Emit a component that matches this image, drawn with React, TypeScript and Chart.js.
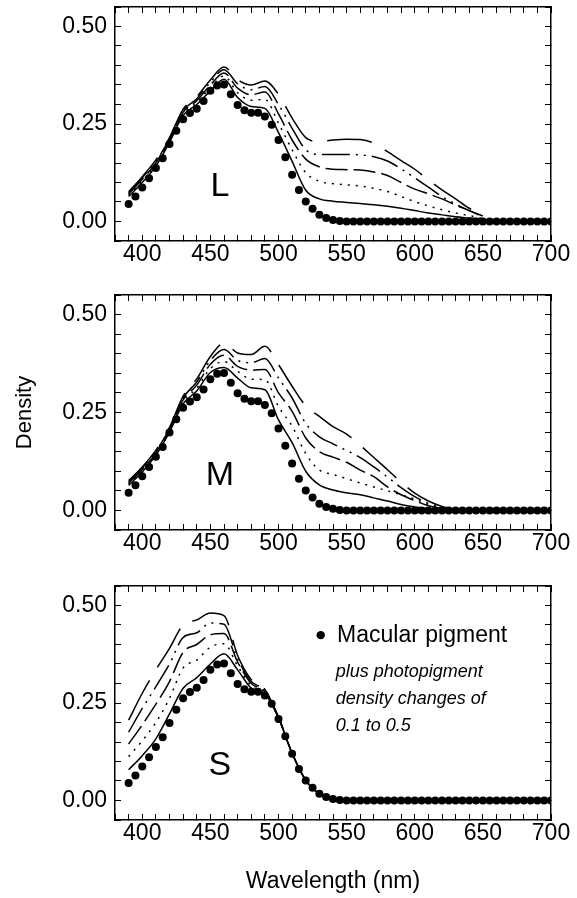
import React, { useEffect, useRef } from 'react';
import { Chart, registerables } from 'chart.js';

Chart.register(...registerables);
Chart.defaults.font.family = '"Liberation Sans", Arial, Helvetica, sans-serif';
Chart.defaults.color = '#000';

// Macular pigment density (dots), every 5 nm
const mpWavelengths = [
  390, 395, 400, 405, 410, 415, 420, 425, 430, 435, 440, 445, 450, 455, 460, 465,
  470, 475, 480, 485, 490, 495, 500, 505, 510, 515, 520, 525, 530, 535, 540, 545,
  550, 555, 560, 565, 570, 575, 580, 585, 590, 595, 600, 605, 610, 615, 620, 625,
  630, 635, 640, 645, 650, 655, 660, 665, 670, 675, 680, 685, 690, 695, 700,
];
const mpDensity = [
  0.045, 0.064, 0.087, 0.111, 0.137, 0.162, 0.199, 0.233, 0.262, 0.278, 0.289, 0.309, 0.335, 0.349, 0.351, 0.326,
  0.299, 0.285, 0.279, 0.279, 0.269, 0.248, 0.209, 0.165, 0.120, 0.081, 0.051, 0.033, 0.017, 0.009, 0.004, 0.001,
  0, 0, 0, 0, 0, 0, 0, 0, 0, 0, 0, 0, 0, 0, 0, 0,
  0, 0, 0, 0, 0, 0, 0, 0, 0, 0, 0, 0, 0, 0, 0,
];

// L panel: macular pigment plus photopigment density change 0.1 ... 0.5
const lWavelengths = [390, 400, 410, 420, 430, 440, 450, 460, 470, 480, 490, 500, 510, 520, 530, 540, 550, 560, 570, 580, 590, 600, 610, 620, 630, 640, 650];
const lPlus01 = [0.064, 0.100, 0.142, 0.203, 0.272, 0.300, 0.335, 0.365, 0.318, 0.295, 0.290, 0.228, 0.154, 0.080, 0.058, 0.052, 0.049, 0.046, 0.043, 0.039, 0.034, 0.028, 0.022, 0.017, 0.012, 0.009, 0.006];
const lPlus02 = [0.067, 0.104, 0.146, 0.206, 0.276, 0.305, 0.343, 0.373, 0.330, 0.311, 0.313, 0.252, 0.184, 0.125, 0.103, 0.097, 0.094, 0.091, 0.085, 0.077, 0.064, 0.051, 0.040, 0.030, 0.022, 0.015, 0.008];
const lPlus03 = [0.070, 0.108, 0.150, 0.209, 0.280, 0.310, 0.350, 0.381, 0.342, 0.325, 0.332, 0.276, 0.209, 0.160, 0.140, 0.134, 0.133, 0.132, 0.127, 0.118, 0.100, 0.083, 0.071, 0.058, 0.042, 0.028, 0.012];
const lPlus04 = [0.073, 0.112, 0.154, 0.212, 0.284, 0.315, 0.357, 0.389, 0.353, 0.338, 0.346, 0.300, 0.239, 0.184, 0.172, 0.172, 0.172, 0.171, 0.166, 0.155, 0.135, 0.112, 0.088, 0.064, 0.045, 0.028, 0.014];
const lPlus05 = [0.076, 0.115, 0.158, 0.215, 0.288, 0.320, 0.363, 0.396, 0.364, 0.350, 0.360, 0.326, 0.265, 0.215, 0.205, 0.209, 0.211, 0.210, 0.201, 0.179, 0.156, 0.134, 0.107, 0.081, 0.058, 0.034, 0.016];

// M panel
const mWavelengths = [390, 400, 410, 420, 430, 440, 450, 460, 470, 480, 490, 500, 510, 520, 530, 540, 550, 560, 570, 580, 590, 600, 610, 620, 630];
const mPlus01 = [0.064, 0.098, 0.141, 0.200, 0.272, 0.305, 0.352, 0.365, 0.338, 0.313, 0.308, 0.231, 0.173, 0.100, 0.065, 0.052, 0.045, 0.040, 0.032, 0.024, 0.015, 0.009, 0.004, 0.002, 0.001];
const mPlus02 = [0.067, 0.101, 0.144, 0.203, 0.277, 0.312, 0.362, 0.380, 0.355, 0.335, 0.334, 0.265, 0.215, 0.145, 0.103, 0.092, 0.081, 0.070, 0.060, 0.050, 0.040, 0.029, 0.015, 0.006, 0.002];
const mPlus03 = [0.070, 0.104, 0.147, 0.206, 0.282, 0.320, 0.373, 0.396, 0.368, 0.358, 0.360, 0.300, 0.253, 0.185, 0.150, 0.136, 0.123, 0.103, 0.086, 0.060, 0.040, 0.025, 0.012, 0.005, 0.002];
const mPlus04 = [0.073, 0.108, 0.151, 0.209, 0.287, 0.328, 0.383, 0.411, 0.383, 0.377, 0.388, 0.338, 0.287, 0.222, 0.188, 0.170, 0.153, 0.135, 0.111, 0.085, 0.058, 0.035, 0.018, 0.007, 0.002];
const mPlus05 = [0.076, 0.111, 0.154, 0.212, 0.292, 0.336, 0.393, 0.427, 0.402, 0.398, 0.419, 0.372, 0.317, 0.267, 0.240, 0.214, 0.195, 0.166, 0.135, 0.104, 0.072, 0.044, 0.024, 0.010, 0.003];

// S panel
const sWavelengths = [390, 400, 410, 420, 430, 440, 450, 460, 470, 480, 490, 500, 510, 520, 530, 540, 550, 560];
const sPlus01 = [0.079, 0.115, 0.158, 0.222, 0.288, 0.315, 0.350, 0.376, 0.335, 0.288, 0.273, 0.211, 0.121, 0.052, 0.017, 0.004, 0, 0];
const sPlus02 = [0.113, 0.153, 0.200, 0.262, 0.340, 0.360, 0.393, 0.402, 0.345, 0.294, 0.276, 0.212, 0.121, 0.052, 0.017, 0.004, 0, 0];
const sPlus03 = [0.145, 0.194, 0.247, 0.305, 0.380, 0.400, 0.425, 0.428, 0.355, 0.300, 0.279, 0.213, 0.121, 0.052, 0.017, 0.004, 0, 0];
const sPlus04 = [0.175, 0.236, 0.292, 0.350, 0.418, 0.430, 0.455, 0.452, 0.363, 0.305, 0.282, 0.213, 0.121, 0.052, 0.017, 0.004, 0, 0];
const sPlus05 = [0.206, 0.275, 0.335, 0.390, 0.450, 0.463, 0.481, 0.474, 0.372, 0.310, 0.285, 0.214, 0.121, 0.052, 0.017, 0.004, 0, 0];

const panelLetters = ['L', 'M', 'S'];
const letterPosition = [457, 0.09];
const legendLabel = 'Macular pigment';
const legendNote = ['plus photopigment', 'density changes of', '0.1 to 0.5'];
const xAxisTitle = 'Wavelength (nm)';
const yAxisTitle = 'Density';

const lineDashes = [[], [2, 6], [22, 6], [28, 6, 2, 6, 2, 6], [45, 15]];

const panels = [
  { letter: panelLetters[0], wl: lWavelengths, lines: [lPlus01, lPlus02, lPlus03, lPlus04, lPlus05], top: 0, height: 290, padTop: 7, xHeight: 49, yTitle: false, xTitle: false, legend: false },
  { letter: panelLetters[1], wl: mWavelengths, lines: [mPlus01, mPlus02, mPlus03, mPlus04, mPlus05], top: 290, height: 290, padTop: 5, xHeight: 50, yTitle: true, xTitle: false, legend: false },
  { letter: panelLetters[2], wl: sWavelengths, lines: [sPlus01, sPlus02, sPlus03, sPlus04, sPlus05], top: 580, height: 318, padTop: 6, xHeight: 78, yTitle: false, xTitle: true, legend: true },
];

const FONT = '"Liberation Sans", Arial, Helvetica, sans-serif';

function xTick(v: number) {
  return v % 50 === 0 && v >= 400 ? String(v) : '';
}
function yTick(v: number) {
  const r = Math.round(v * 100);
  return r >= 0 && r % 25 === 0 ? (r / 100).toFixed(2) : '';
}

function buildChart(canvas: HTMLCanvasElement, panel: any) {
  const datasets: any[] = panel.lines.map((vals: number[], k: number) => ({
    data: panel.wl.map((x: number, i: number) => ({ x, y: vals[i] })),
    showLine: true,
    borderColor: '#000',
    borderWidth: 1.5,
    borderDash: lineDashes[k],
    borderCapStyle: 'butt',
    pointRadius: 0,
    pointHoverRadius: 0,
    fill: false,
    cubicInterpolationMode: 'monotone',
  }));
  datasets.push({
    data: mpWavelengths.map((x, i) => ({ x, y: mpDensity[i] })),
    showLine: false,
    pointRadius: 4,
    pointHoverRadius: 4,
    pointBackgroundColor: '#000',
    pointBorderColor: '#000',
    pointBorderWidth: 0,
  });

  const tickGrid = { drawOnChartArea: false, drawTicks: true, tickLength: -6, color: '#000', lineWidth: 1 };
  const border = { display: true, color: '#000', width: 1.5 };

  const annotate = {
    id: 'annotate',
    afterDatasetsDraw(chart: any) {
      const { ctx } = chart;
      const x = chart.scales.x;
      const y = chart.scales.y;
      ctx.save();
      ctx.fillStyle = '#000';
      ctx.font = `34px ${FONT}`;
      ctx.textAlign = 'center';
      ctx.textBaseline = 'middle';
      ctx.fillText(panel.letter, x.getPixelForValue(letterPosition[0]), y.getPixelForValue(letterPosition[1]));
      if (panel.legend) {
        const dx = x.getPixelForValue(531);
        const dy = y.getPixelForValue(0.424);
        ctx.beginPath();
        ctx.arc(dx, dy, 4.2, 0, Math.PI * 2);
        ctx.fill();
        ctx.textAlign = 'left';
        ctx.font = `23px ${FONT}`;
        ctx.fillText(legendLabel, x.getPixelForValue(543), dy + 1);
        ctx.font = `italic 18px ${FONT}`;
        const ys = [0.329, 0.26, 0.191];
        legendNote.forEach((t, i) => ctx.fillText(t, x.getPixelForValue(542), y.getPixelForValue(ys[i])));
      }
      ctx.restore();
    },
  };

  return new Chart(canvas, {
    type: 'scatter',
    data: { datasets },
    plugins: [annotate],
    options: {
      animation: false,
      responsive: false,
      maintainAspectRatio: false,
      events: [],
      layout: { padding: { top: panel.padTop, right: 26, bottom: 0, left: 0 } },
      plugins: { legend: { display: false }, tooltip: { enabled: false } },
      scales: {
        x: {
          type: 'linear',
          position: 'bottom',
          min: 380,
          max: 700,
          ticks: { stepSize: 10, autoSkip: false, maxRotation: 0, padding: 6, font: { size: 23 }, color: '#000', callback: (v: any) => xTick(Number(v)) },
          grid: tickGrid,
          border,
          title: { display: panel.xTitle, text: xAxisTitle, font: { size: 23 }, color: '#000', padding: { top: 0, bottom: 3 } },
          afterFit: (s: any) => { s.height = panel.xHeight; s.paddingLeft = 0; s.paddingRight = 0; },
        },
        x2: {
          type: 'linear',
          position: 'top',
          min: 380,
          max: 700,
          ticks: { stepSize: 10, autoSkip: false, display: false },
          grid: tickGrid,
          border,
          afterFit: (s: any) => { s.height = 0; s.paddingLeft = 0; s.paddingRight = 0; },
        },
        y: {
          type: 'linear',
          position: 'left',
          min: -0.05,
          max: 0.55,
          ticks: { stepSize: 0.05, autoSkip: false, padding: 14, font: { size: 23 }, color: '#000', callback: (v: any) => yTick(Number(v)) },
          grid: tickGrid,
          border,
          title: { display: panel.yTitle, text: yAxisTitle, font: { size: 22 }, color: '#000', padding: { top: 12, bottom: 0 } },
          afterFit: (s: any) => { s.width = 115; s.paddingTop = 0; s.paddingBottom = 0; },
        },
        y2: {
          type: 'linear',
          position: 'right',
          min: -0.05,
          max: 0.55,
          ticks: { stepSize: 0.05, autoSkip: false, display: false },
          grid: tickGrid,
          border,
          afterFit: (s: any) => { s.width = 0; s.paddingTop = 0; s.paddingBottom = 0; },
        },
      },
    } as any,
  });
}

export default function App() {
  const r0 = useRef<HTMLCanvasElement>(null);
  const r1 = useRef<HTMLCanvasElement>(null);
  const r2 = useRef<HTMLCanvasElement>(null);
  const refs = [r0, r1, r2];

  useEffect(() => {
    const charts = panels.map((p, i) => buildChart(refs[i].current as HTMLCanvasElement, p));
    return () => charts.forEach((c) => c.destroy());
  }, []);

  return (
    <div style={{ position: 'absolute', left: 0, top: 0, width: 577, height: 898, background: '#fff' }}>
      {panels.map((p, i) => (
        <canvas
          key={i}
          ref={refs[i]}
          width={577}
          height={p.height}
          style={{ position: 'absolute', left: 0, top: p.top, width: 577, height: p.height }}
        />
      ))}
    </div>
  );
}
